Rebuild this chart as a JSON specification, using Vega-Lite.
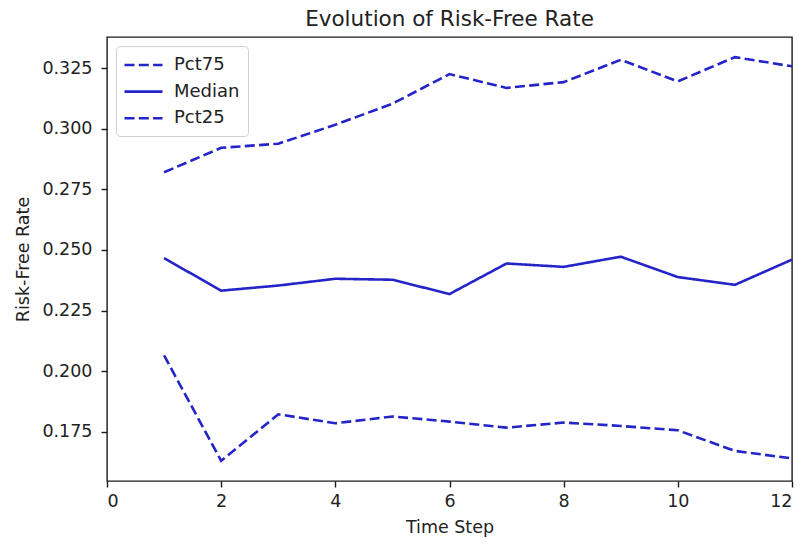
{
  "$schema": "https://vega.github.io/schema/vega-lite/v6.json",
  "width": 685,
  "height": 444,
  "autosize": {"type": "none"},
  "padding": {"left": 107, "top": 37, "right": 10, "bottom": 64},
  "background": "white",
  "title": {
    "text": "Evolution of Risk-Free Rate",
    "font": "DejaVu Sans",
    "fontSize": 21.5,
    "fontWeight": "normal",
    "color": "#222222",
    "anchor": "middle",
    "offset": 7
  },
  "config": {
    "view": {"stroke": "#1a1a1a", "strokeWidth": 1.4},
    "axis": {
      "domain": false,
      "grid": false,
      "labelFont": "DejaVu Sans",
      "labelFontSize": 17.5,
      "labelColor": "#222222",
      "titleFont": "DejaVu Sans",
      "titleFontSize": 17.5,
      "titleFontWeight": "normal",
      "titleColor": "#222222",
      "tickColor": "#1a1a1a",
      "tickSize": 6,
      "tickWidth": 1.4,
      "labelPadding": 5
    },
    "legend": {
      "labelFont": "DejaVu Sans",
      "labelFontSize": 18,
      "labelColor": "#222222"
    }
  },
  "data": {
    "values": [
      {"t": 1, "series": "Pct75", "value": 0.2820},
      {"t": 2, "series": "Pct75", "value": 0.2921},
      {"t": 3, "series": "Pct75", "value": 0.2938},
      {"t": 4, "series": "Pct75", "value": 0.3016},
      {"t": 5, "series": "Pct75", "value": 0.3103},
      {"t": 6, "series": "Pct75", "value": 0.3225},
      {"t": 7, "series": "Pct75", "value": 0.3168},
      {"t": 8, "series": "Pct75", "value": 0.3192},
      {"t": 9, "series": "Pct75", "value": 0.3284},
      {"t": 10, "series": "Pct75", "value": 0.3195},
      {"t": 11, "series": "Pct75", "value": 0.3295},
      {"t": 12, "series": "Pct75", "value": 0.3257},
      {"t": 1, "series": "Median", "value": 0.2466},
      {"t": 2, "series": "Median", "value": 0.2332},
      {"t": 3, "series": "Median", "value": 0.2353},
      {"t": 4, "series": "Median", "value": 0.2381},
      {"t": 5, "series": "Median", "value": 0.2377},
      {"t": 6, "series": "Median", "value": 0.2318},
      {"t": 7, "series": "Median", "value": 0.2444},
      {"t": 8, "series": "Median", "value": 0.2430},
      {"t": 9, "series": "Median", "value": 0.2472},
      {"t": 10, "series": "Median", "value": 0.2388},
      {"t": 11, "series": "Median", "value": 0.2356},
      {"t": 12, "series": "Median", "value": 0.2460},
      {"t": 1, "series": "Pct25", "value": 0.2065},
      {"t": 2, "series": "Pct25", "value": 0.1630},
      {"t": 3, "series": "Pct25", "value": 0.1822},
      {"t": 4, "series": "Pct25", "value": 0.1785},
      {"t": 5, "series": "Pct25", "value": 0.1813},
      {"t": 6, "series": "Pct25", "value": 0.1792},
      {"t": 7, "series": "Pct25", "value": 0.1767},
      {"t": 8, "series": "Pct25", "value": 0.1788},
      {"t": 9, "series": "Pct25", "value": 0.1774},
      {"t": 10, "series": "Pct25", "value": 0.1756},
      {"t": 11, "series": "Pct25", "value": 0.1671},
      {"t": 12, "series": "Pct25", "value": 0.1640}
    ]
  },
  "mark": {"type": "line", "strokeWidth": 2.6, "clip": true},
  "encoding": {
    "x": {
      "field": "t",
      "type": "quantitative",
      "title": "Time Step",
      "scale": {"domain": [0, 12], "nice": false, "zero": false},
      "axis": {"values": [0, 2, 4, 6, 8, 10, 12], "titlePadding": 9}
    },
    "y": {
      "field": "value",
      "type": "quantitative",
      "title": "Risk-Free Rate",
      "scale": {"domain": [0.1547, 0.3378], "nice": false, "zero": false},
      "axis": {
        "values": [0.175, 0.2, 0.225, 0.25, 0.275, 0.3, 0.325],
        "format": ".3f",
        "labelPadding": 9,
        "titlePadding": 9
      }
    },
    "color": {
      "field": "series",
      "type": "nominal",
      "scale": {
        "domain": ["Pct75", "Median", "Pct25"],
        "range": ["#2424c8", "#2424c8", "#2424c8"]
      },
      "legend": {
        "title": null,
        "orient": "none",
        "legendX": 9,
        "legendY": 9,
        "symbolType": "M-2,0H2",
        "symbolSize": 361,
        "symbolStrokeWidth": 2.6,
        "symbolOffset": 8.5,
        "labelOffset": 19.5,
        "rowPadding": 6.6,
        "padding": 8,
        "strokeColor": "#d0d0d0",
        "fillColor": "white",
        "cornerRadius": 4
      }
    },
    "strokeDash": {
      "field": "series",
      "type": "nominal",
      "scale": {
        "domain": ["Pct75", "Median", "Pct25"],
        "range": [[10, 4.3], [1, 0], [10, 4.3]]
      },
      "legend": null
    }
  }
}
